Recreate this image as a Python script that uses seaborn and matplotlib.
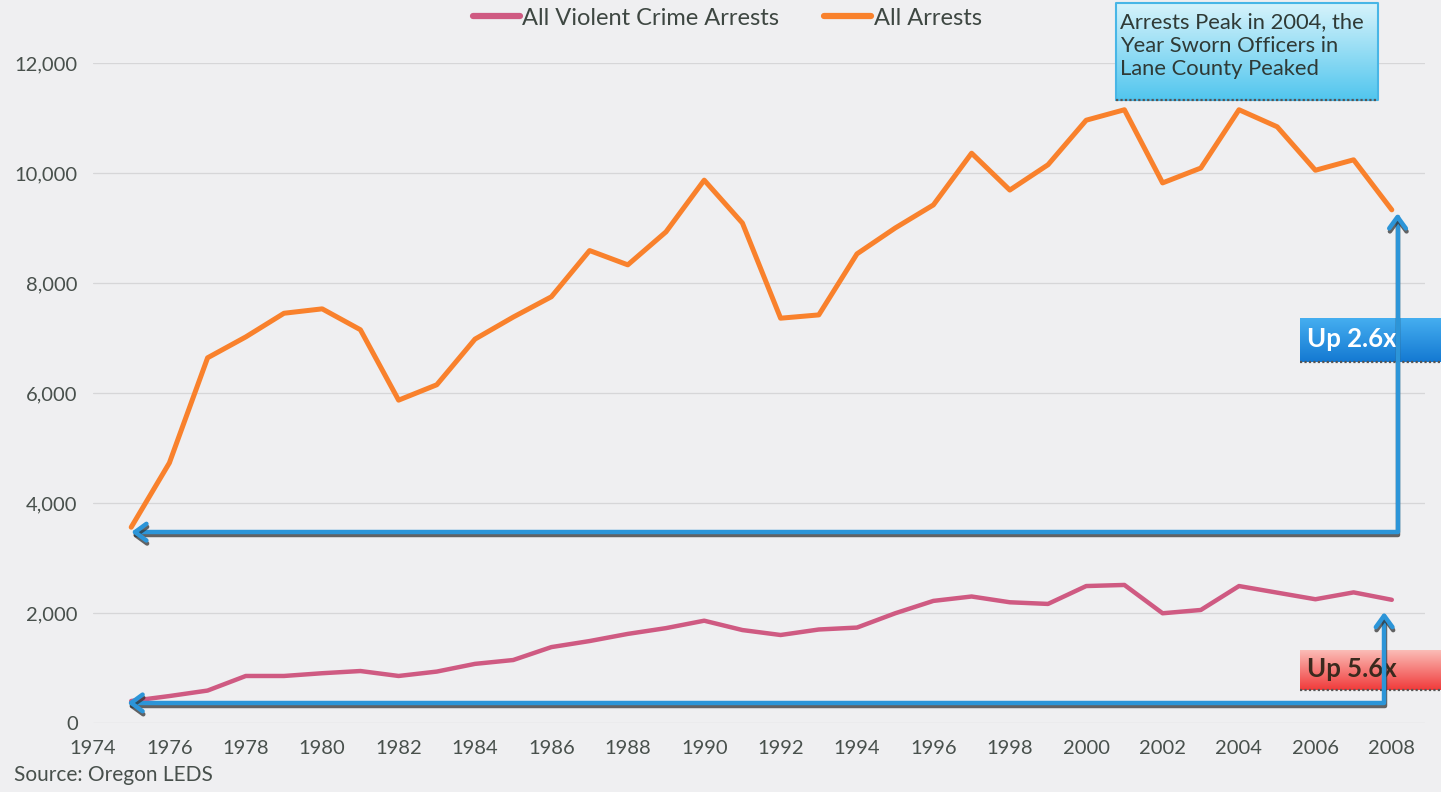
import numpy as np
import pandas as pd
import seaborn as sns
import matplotlib.pyplot as plt
import matplotlib.patheffects as pe
from matplotlib.patches import FancyArrowPatch
from matplotlib.path import Path
from matplotlib.colors import LinearSegmentedColormap
from matplotlib.ticker import FuncFormatter

# Lane County arrests
years = list(range(1975, 2009))
all_arrests = [3560, 4730, 6640, 7020, 7450, 7530, 7150, 5870, 6150, 6980,
               7380, 7750, 8590, 8330, 8930, 9870, 9090, 7360, 7420, 8530,
               9000, 9420, 10360, 9690, 10150, 10960, 11150, 9820, 10090, 11150,
               10840, 10050, 10240, 9330]
violent_arrests = [400, 490, 590, 855, 855, 905, 945, 855, 935, 1075,
                   1145, 1380, 1490, 1620, 1725, 1860, 1690, 1600, 1700, 1735,
                   1995, 2220, 2300, 2195, 2165, 2490, 2510, 1995, 2055, 2490,
                   2370, 2250, 2375, 2240]
series_names = ['All Violent Crime Arrests', 'All Arrests']
x_ticks = list(range(1974, 2009, 2))
y_ticks = list(range(0, 12001, 2000))
note_text = 'Arrests Peak in 2004, the\nYear Sworn Officers in\nLane County Peaked'
source_text = 'Source: Oregon LEDS'

BG = '#efeff1'
ORANGE = '#f9812c'
PINK = '#cf5a82'
BLUE = '#2c95d8'
TEXT = '#48504c'

W, H = 1441, 792

sns.set_style('white')
plt.rcParams['font.family'] = ['Lato', 'DejaVu Sans']

df = pd.DataFrame({
    'year': years * 2,
    'arrests': violent_arrests + all_arrests,
    'series': [series_names[0]] * len(years) + [series_names[1]] * len(years),
})


def px_rect(x0, y0, x1, y1):
    """Pixel box (top-left origin) to figure fraction rect."""
    return [x0 / W, 1 - y1 / H, (x1 - x0) / W, (y1 - y0) / H]


def gradient_box(fig, rect, top, bottom, text, color, size, weight='normal',
                 edge=None, tx=0.03, ty=0.5, linespacing=1.2):
    bax = fig.add_axes(rect, zorder=3)
    cmap = LinearSegmentedColormap.from_list('g', [top, bottom])
    grad = np.linspace(0, 1, 64).reshape(-1, 1)
    bax.imshow(grad, cmap=cmap, aspect='auto', extent=[0, 1, 0, 1], origin='upper')
    bax.set_xlim(0, 1)
    bax.set_ylim(0, 1)
    bax.axis('off')
    if edge:
        bax.plot([0, 1, 1, 0, 0], [0, 0, 1, 1, 0], color=edge, lw=1.5,
                 transform=bax.transAxes, clip_on=False)
    bax.plot([0, 1], [0, 0], color='#555555', lw=1.6, ls=(0, (1, 1)),
             transform=bax.transAxes, clip_on=False)
    bax.text(tx, ty, text, transform=bax.transAxes, color=color, fontsize=size,
             fontweight=weight, va='center', ha='left', linespacing=linespacing)
    return bax


fig = plt.figure(figsize=(W / 100, H / 100), dpi=100, facecolor=BG)
ax = fig.add_axes(px_rect(93, 63, 1425, 723), zorder=1)
ax.set_facecolor('none')

sns.lineplot(data=df[df.series == series_names[0]], x='year', y='arrests',
             color=PINK, linewidth=3.2, label=series_names[0], ax=ax)
sns.lineplot(data=df[df.series == series_names[1]], x='year', y='arrests',
             color=ORANGE, linewidth=3.6, label=series_names[1], ax=ax)

ax.set_xlim(1974, 1974 + (1425 - 93) / 38.2)
ax.set_ylim(0, 12000)
ax.set_xticks(x_ticks)
ax.set_yticks(y_ticks)
ax.yaxis.set_major_formatter(FuncFormatter(lambda v, p: f'{int(v):,}'))
ax.tick_params(axis='both', length=0, labelsize=14.5, labelcolor=TEXT)
ax.tick_params(axis='x', pad=12)
ax.tick_params(axis='y', pad=11)
ax.grid(axis='y', color='#d6d6d8', lw=0.9)
for s in ax.spines.values():
    s.set_visible(False)
ax.set_xlabel('')
ax.set_ylabel('')

leg = ax.legend(loc='center', bbox_to_anchor=(0.476, 1.068), ncol=2, frameon=False,
                fontsize=17, handlelength=2.0, handletextpad=0.1, columnspacing=1.9,
                labelcolor='#3e4742')
for line in leg.get_lines():
    line.set_linewidth(4.5)

# callout boxes
gradient_box(fig, px_rect(1116, 3, 1378, 100), '#d6f3fb', '#52c6ee', note_text,
             '#2f3a36', 15.8, edge='#48b6e6', tx=0.015, ty=0.56, linespacing=1.2)
gradient_box(fig, px_rect(1300, 318, 1441, 362), '#45aef0', '#1479d2', 'Up 2.6x',
             'white', 18.5, weight='bold', tx=0.05, ty=0.52)
gradient_box(fig, px_rect(1300, 650, 1441, 690), '#fbbcb6', '#f03b3b', 'Up 5.6x',
             '#3a2a1e', 18.5, weight='bold', tx=0.05, ty=0.52)

# growth arrows, drawn above the boxes
shadow = [pe.SimpleLineShadow(offset=(0.5, -2.2), shadow_color='#333333', alpha=0.75),
          pe.Normal()]


def growth_arrow(x_corner, level, x_start, y_end):
    verts = [(x_start, level), (x_corner, level), (x_corner, y_end)]
    arr = FancyArrowPatch(path=Path(verts, [Path.MOVETO, Path.LINETO, Path.LINETO]),
                          arrowstyle='<->,head_length=0.55,head_width=0.4',
                          mutation_scale=15, lw=3.2, color=BLUE,
                          transform=ax.transData, zorder=5, path_effects=shadow)
    fig.add_artist(arr)


growth_arrow(years[-1] + 0.15, all_arrests[0] - 90, years[0], all_arrests[-1] - 60)
growth_arrow(years[-1] - 0.2, violent_arrests[0] - 35, years[0] - 0.1,
             violent_arrests[-1] - 220)

fig.text(14 / W, 1 - 775 / H, source_text, fontsize=15, color=TEXT, va='center')

fig.savefig('out.png', dpi=100, facecolor=BG)
